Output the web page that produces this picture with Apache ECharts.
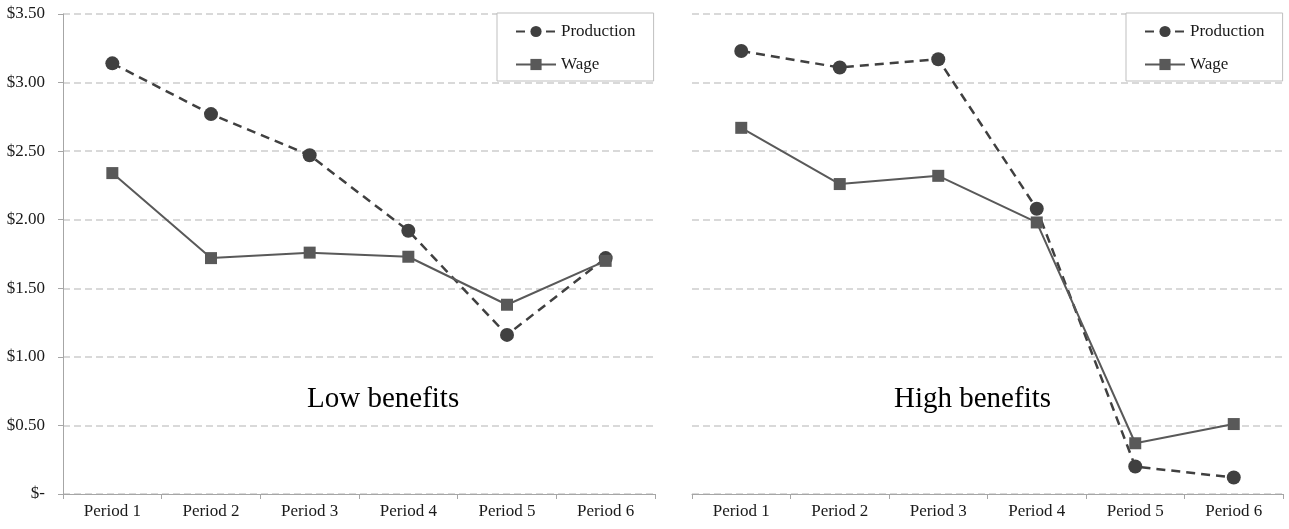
<!DOCTYPE html>
<html>
<head>
<meta charset="utf-8">
<script src="https://cdn.jsdelivr.net/npm/echarts@6/dist/echarts.min.js"></script>
<style>
  html, body { margin: 0; padding: 0; background: #fff; }
  #chart { width: 1289px; height: 529px; }
</style>
</head>
<body>
<div id="chart"></div>
<script>
var periods = ['Period 1', 'Period 2', 'Period 3', 'Period 4', 'Period 5', 'Period 6'];
var lowProduction = [3.14, 2.77, 2.47, 1.92, 1.16, 1.72];
var lowWage = [2.34, 1.72, 1.76, 1.73, 1.38, 1.70];
var highProduction = [3.23, 3.11, 3.17, 2.08, 0.20, 0.12];
var highWage = [2.67, 2.26, 2.32, 1.98, 0.37, 0.51];
var yTicks = ['$-', '$0.50', '$1.00', '$1.50', '$2.00', '$2.50', '$3.00', '$3.50'];

var chart = echarts.init(document.getElementById('chart'));
var serif = "'Liberation Serif', 'Times New Roman', serif";

function xAxis(idx) {
  return {
    type: 'category',
    gridIndex: idx,
    data: periods,
    boundaryGap: true,
    axisLine: { lineStyle: { color: '#a6a6a6', width: 1 } },
    axisTick: { show: true, length: 5, lineStyle: { color: '#a6a6a6' } },
    axisLabel: { color: '#1a1a1a', fontFamily: serif, fontSize: 17, margin: 9 }
  };
}

function yAxis(idx, showAxis) {
  return {
    type: 'value',
    gridIndex: idx,
    min: 0,
    max: 3.5,
    interval: 0.5,
    axisLine: { show: showAxis, lineStyle: { color: '#a6a6a6' } },
    axisTick: { show: showAxis, length: 5, lineStyle: { color: '#a6a6a6' } },
    axisLabel: {
      show: showAxis,
      color: '#1a1a1a',
      fontFamily: serif,
      fontSize: 17,
      margin: 18,
      formatter: function (v) { return yTicks[Math.round(v / 0.5)]; }
    },
    splitLine: { show: true, lineStyle: { color: '#d9d9d9', width: 2, type: [7, 4] } }
  };
}

function prodSeries(idx, data) {
  return {
    name: 'Production', type: 'line', xAxisIndex: idx, yAxisIndex: idx,
    data: data, symbol: 'circle', symbolSize: 14,
    itemStyle: { color: '#404040' },
    lineStyle: { color: '#404040', width: 2.5, type: [9, 6] },
    z: 3
  };
}

function wageSeries(idx, data) {
  return {
    name: 'Wage', type: 'line', xAxisIndex: idx, yAxisIndex: idx,
    data: data, symbol: 'rect', symbolSize: 12,
    itemStyle: { color: '#595959' },
    lineStyle: { color: '#595959', width: 2 },
    z: 4
  };
}

function legend(left) {
  return {
    orient: 'vertical',
    left: left, top: 13,
    padding: [10, 18, 8, 18],
    itemWidth: 40, itemHeight: 14, itemGap: 16,
    backgroundColor: '#fff',
    borderColor: '#bfbfbf', borderWidth: 1,
    textStyle: { color: '#1a1a1a', fontFamily: serif, fontSize: 17 },
    data: ['Production', 'Wage']
  };
}

var option = {
  animation: false,
  backgroundColor: '#fff',
  title: [
    { text: 'Low benefits', left: 302, top: 380,
      textStyle: { fontFamily: serif, fontSize: 29, fontWeight: 'normal', color: '#000' } },
    { text: 'High benefits', left: 889, top: 380,
      textStyle: { fontFamily: serif, fontSize: 29, fontWeight: 'normal', color: '#000' } }
  ],
  legend: [legend(497), legend(1126)],
  grid: [
    { left: 63, right: 634, top: 14, bottom: 35 },
    { left: 692, right: 6, top: 14, bottom: 35 }
  ],
  xAxis: [xAxis(0), xAxis(1)],
  yAxis: [yAxis(0, true), yAxis(1, false)],
  series: [
    prodSeries(0, lowProduction),
    wageSeries(0, lowWage),
    prodSeries(1, highProduction),
    wageSeries(1, highWage)
  ]
};

chart.setOption(option);
</script>
</body>
</html>
